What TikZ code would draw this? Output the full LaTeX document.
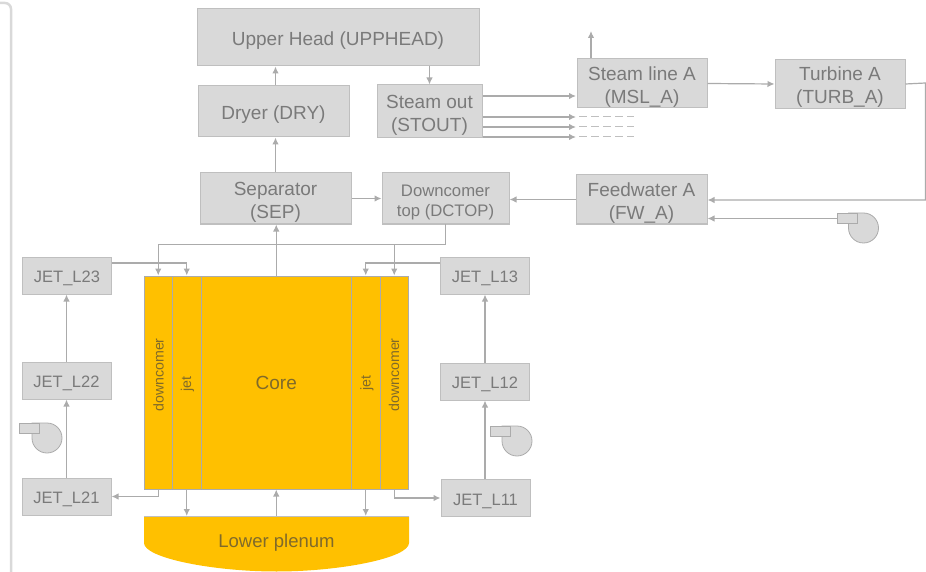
\documentclass[tikz,border=0pt]{standalone}
\usepackage{fontspec}
\setmainfont{Liberation Sans}
\usepackage{xcolor}
\usetikzlibrary{arrows.meta}
\definecolor{boxfill}{HTML}{D9D9D9}
\definecolor{boxline}{HTML}{BFBFBF}
\definecolor{flowline}{HTML}{ABABAB}
\definecolor{labeltext}{HTML}{7A7A7A}
\definecolor{coretext}{HTML}{806A2A}
\definecolor{vessel}{HTML}{FFC000}
\begin{document}
\begin{tikzpicture}[x=1pt, y=-1pt,
    every node/.style={font=\fontsize{19}{22.8}\selectfont, text=labeltext},
    basebox/.style={draw=boxline, fill=boxfill, line width=1pt, align=center, inner sep=0pt},
    raised/.style={execute at begin node={\rule{0pt}{#1}}},
    unit/.style={basebox, raised=19.5pt},
    twoline/.style={basebox, raised=43pt},
    jetbox/.style={basebox, raised=17.5pt, minimum width=89pt, minimum height=37pt, font=\fontsize{16.5}{18}\selectfont},
    part/.style={draw=flowline, fill=vessel, line width=1pt, inner sep=0pt, minimum height=213pt},
    slabel/.style={rotate=90, text=coretext, font=\fontsize{14.2}{15}\selectfont},
    flow/.style={draw=flowline, line width=1.2pt, -{Latex[length=7pt, width=6.5pt]}},
    pipe/.style={draw=flowline, line width=1.2pt},
    stub/.style={draw=boxline, line width=1pt, dash pattern=on 8pt off 4pt},
    pumpbody/.style={draw=flowline, fill=boxfill, line width=0.8pt},
    pumpinlet/.style={pumpbody, minimum width=20pt, minimum height=10pt, inner sep=0pt}]
  \useasboundingbox (0, 0) rectangle (926, 572);

  % outer frame on the left
  \draw[boxfill, line width=2.5pt] (0, 3) -- (5, 3) arc[start angle=-90, end angle=0, radius=6] -- (11, 572);

  % upper part of the vessel
  \node[unit, minimum width=282pt, minimum height=57pt] (UPPHEAD) at (338, 37.5) {Upper Head (UPPHEAD)};
  \node[unit, minimum width=151pt, minimum height=51pt] (DRY) at (273.5, 111.5) {Dryer (DRY)};
  \node[twoline, minimum width=105pt, minimum height=53pt] (STOUT) at (429.5, 111.5) {Steam out\\(STOUT)};
  \node[twoline, minimum width=151pt, minimum height=51pt] (SEP) at (275.5, 198.5) {Separator\\(SEP)};
  \node[basebox, raised=39pt, minimum width=127pt, minimum height=51pt, font=\fontsize{16.7}{20}\selectfont] (DCTOP) at (445.5, 198.5) {Downcomer\\top (DCTOP)};

  % steam and feedwater loop
  \node[twoline, minimum width=130pt, minimum height=49pt] (MSL) at (642, 83.5) {Steam line A\\(MSL\_A)};
  \node[twoline, minimum width=130pt, minimum height=49pt] (TURB) at (840, 84) {Turbine A\\(TURB\_A)};
  \node[twoline, minimum width=131pt, minimum height=49pt] (FW) at (641.5, 199.5) {Feedwater A\\(FW\_A)};

  % core and its channels
  \node[part, minimum width=150.5pt, text=coretext] (CORE) at (276.25, 382.5) {Core};
  \node[part, minimum width=28.5pt] (DCL) at (158.25, 382.5) {};
  \node[part, minimum width=28.5pt] (JETL) at (186.75, 382.5) {};
  \node[part, minimum width=28.5pt] (JETR) at (365.75, 382.5) {};
  \node[part, minimum width=28.5pt] (DCR) at (394.25, 382.5) {};
  \node[slabel] (DCLTXT) at (158.5, 375) {downcomer};
  \node[slabel] (JETLTXT) at (187.5, 384) {jet};
  \node[slabel] (JETRTXT) at (367, 383) {jet};
  \node[slabel] (DCRTXT) at (394, 375) {downcomer};

  % lower plenum
  \fill[vessel] (144, 516.5) -- (409, 516.5) -- (409, 543) .. controls (409, 558) and (340, 571.5) .. (276.5, 571.5) .. controls (213, 571.5) and (144, 558) .. (144, 543) -- cycle;
  \draw[boxline, line width=1pt] (144, 516.5) -- (409, 516.5);
  \node[text=coretext, font=\fontsize{18.5}{22}\selectfont] (LP) at (276.5, 542.5) {Lower plenum};
  \coordinate (LPTOP) at (276.25, 516);

  % jet loops
  \node[jetbox] (L23) at (67, 275.5) {JET\_L23};
  \node[jetbox] (L22) at (66.5, 380.5) {JET\_L22};
  \node[jetbox] (L21) at (66.5, 496.5) {JET\_L21};
  \node[jetbox] (L13) at (485, 275.5) {JET\_L13};
  \node[jetbox] (L12) at (485, 381.5) {JET\_L12};
  \node[jetbox] (L11) at (485.5, 498) {JET\_L11};

  % free ends of the pipes
  \coordinate (MSLUP) at (591, 31);
  \coordinate (A1) at (576, 96);
  \coordinate (A2) at (576, 117);
  \coordinate (A3) at (576, 127);
  \coordinate (A4) at (576, 137);
  \coordinate (B1) at (579, 117);
  \coordinate (B2) at (579, 127);
  \coordinate (B3) at (579, 137);
  \coordinate (C1) at (634, 117);
  \coordinate (C2) at (634, 127);
  \coordinate (C3) at (634, 137);
  \coordinate (BUS) at (276, 244.5);
  \coordinate (EDGE) at (925.5, 83);
  \coordinate (RET) at (925.5, 200);
  \coordinate (JETROW) at (276, 263);

  % pumps
  \draw[pumpbody] (848.5, 228) arc[start angle=180, end angle=-90, radius=15] -- (848.5, 213) -- cycle;
  \node[pumpinlet] (PUMPFW) at (847, 218.5) {};
  \draw[pumpbody] (32, 438) arc[start angle=180, end angle=-90, radius=15] -- (32, 423) -- cycle;
  \node[pumpinlet] (PUMPL) at (29, 428) {};
  \draw[pumpbody] (502, 441) arc[start angle=180, end angle=-90, radius=15] -- (502, 426) -- cycle;
  \node[pumpinlet] (PUMPR) at (500, 431) {};

  % connectors
  \draw[flow] (SEP |- DRY.north) -- (SEP |- UPPHEAD.south);
  \draw[flow] (STOUT |- UPPHEAD.south) -- (STOUT.north);
  \draw[flow] (SEP.north) -- (SEP |- DRY.south);
  \draw[flow] (CORE.north) -- (SEP.south -| CORE);
  \draw[flow] (SEP.east) -- (DCTOP.west);
  \draw[flow] (FW.west) -- (DCTOP.east |- FW);
  \draw[flow] (STOUT.east |- A1) -- (A1);
  \draw[flow] (STOUT.east |- A2) -- (A2);
  \draw[flow] (STOUT.east |- A3) -- (A3);
  \draw[flow] (STOUT.east |- A4) -- (A4);
  \draw[stub] (B1) -- (C1);
  \draw[stub] (B2) -- (C2);
  \draw[stub] (B3) -- (C3);
  \draw[flow] (MSLUP |- MSL.north) -- (MSLUP);
  \draw[flow] (MSL.east) -- (TURB.west);
  \draw[flow] (TURB.east) -- (EDGE) -- (RET) -- (FW.east |- RET);
  \draw[flow] (PUMPFW.west) -- (FW.east |- PUMPFW);
  \draw[pipe] (DCTOP.south) -- (DCTOP.south |- BUS) -- (DCL.north |- BUS);
  \draw[flow] (DCL.north |- BUS) -- (DCL.north);
  \draw[flow] (DCR.north |- BUS) -- (DCR.north);
  \draw[flow] (L23.east |- JETROW) -| (JETL.north);
  \draw[flow] (L13.west |- JETROW) -| (JETR.north);
  \draw[flow] (L21.north) -- (L22.south);
  \draw[flow] (L22.north) -- (L23.south -| L22);
  \draw[flow] (L11.north -| L12) -- (L12.south);
  \draw[flow] (L12.north) -- (L13.south);
  \draw[flow] (DCL.south) |- (L21.east);
  \draw[flow] (DCR.south) |- (L11.west);
  \draw[flow] (JETL.south) -- (JETL.south |- LPTOP);
  \draw[flow] (JETR.south) -- (JETR.south |- LPTOP);
  \draw[flow] (LPTOP) -- (CORE.south);
\end{tikzpicture}
\end{document}
